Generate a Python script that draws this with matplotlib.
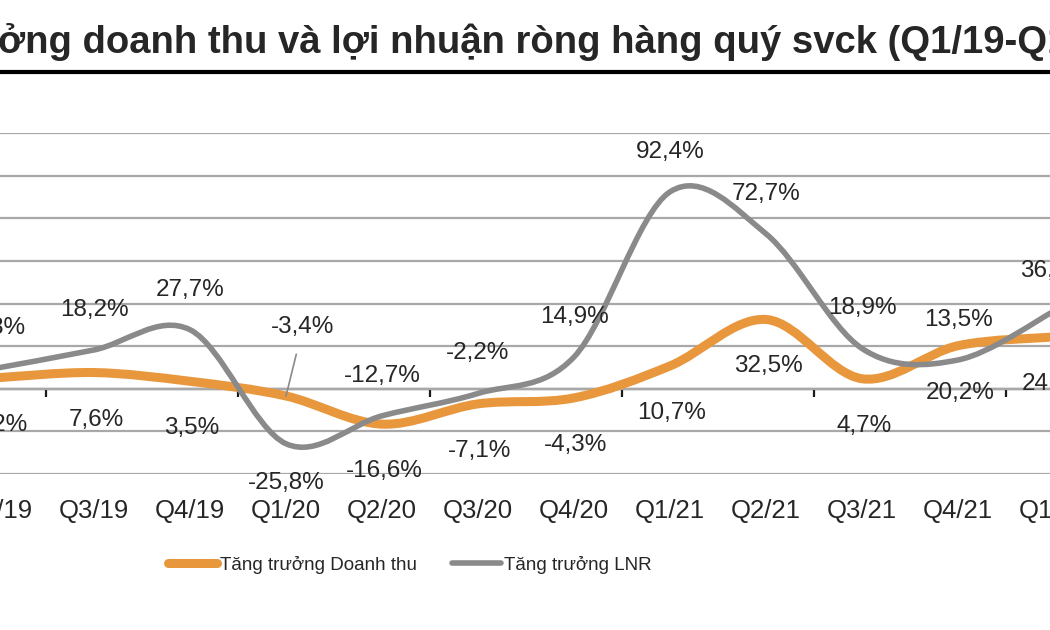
#Growth chart: quarterly revenue vs net profit growth (yoy), smoothed lines like Excel
import numpy as np
import matplotlib.pyplot as plt
from matplotlib.path import Path
from matplotlib.patches import PathPatch
from matplotlib.lines import Line2D

plt.rcParams['font.family'] = ['Liberation Sans', 'DejaVu Sans']

#Data
quarters = ['Q2/19', 'Q3/19', 'Q4/19', 'Q1/20', 'Q2/20', 'Q3/20',
            'Q4/20', 'Q1/21', 'Q2/21', 'Q3/21', 'Q4/21', 'Q1/22']
revenue_growth = [5.2, 7.6, 3.5, -3.4, -16.6, -7.1, -4.3, 10.7, 32.5, 4.7, 20.2, 24.3]
profit_growth = [9.8, 18.2, 27.7, -25.8, -12.7, -2.2, 14.9, 92.4, 72.7, 18.9, 13.5, 36.4]
series_names = ['Tăng trưởng Doanh thu', 'Tăng trưởng LNR']
title = 'ởng doanh thu và lợi nhuận ròng hàng quý svck (Q1/19-Q1/22)'

orange = '#E9973C'
grey = '#8A8A8A'
text_col = '#262626'


def smooth_path(xs, ys):
    #Catmull-Rom through the points, written as cubic Bezier segments
    pts = np.column_stack([xs, ys]).astype(float)
    padded = np.vstack([pts[0], pts, pts[-1]])
    verts = [pts[0]]
    codes = [Path.MOVETO]
    for i in range(len(pts) - 1):
        p0, p1, p2, p3 = padded[i], padded[i + 1], padded[i + 2], padded[i + 3]
        verts += [p1 + (p2 - p0) / 6, p2 - (p3 - p1) / 6, p2]
        codes += [Path.CURVE4] * 3
    return Path(verts, codes)


def pct(v):
    return f'{v:.1f}%'.replace('.', ',')


fig = plt.figure(figsize=(10.5, 6.3), dpi=100)
#axes deliberately wider than the figure: the reference is a crop
ax = fig.add_axes([-50 / 1050, 1 - 474 / 630, 1152 / 1050, 341 / 630])
x = np.arange(len(quarters))

ax.set_xlim(-0.5, 11.5)
ax.set_ylim(-40, 120)
ax.set_yticks(np.arange(-40, 121, 20))
ax.yaxis.grid(True, color='#A8A8A8', linewidth=1.6)
ax.set_axisbelow(True)
ax.tick_params(axis='y', left=False, labelleft=False)
for s in ax.spines.values():
    s.set_visible(False)

ax.set_xticks(x, quarters)
ax.tick_params(axis='x', length=0, pad=18, labelsize=18.5, labelcolor=text_col)

#zero axis with tick marks every two categories
zero_ax = ax.secondary_xaxis(0.25)
zero_ax.spines['bottom'].set_linewidth(1.6)
zero_ax.spines['bottom'].set_color('#1a1a1a')
zero_ax.set_xticks(np.arange(0.5, len(quarters), 2))
zero_ax.tick_params(axis='x', direction='out', length=6, width=1.6,
                    color='#1a1a1a', labelbottom=False)

ax.add_patch(PathPatch(smooth_path(x, revenue_growth), fill=False,
                       edgecolor=orange, linewidth=6.5, capstyle='round', zorder=3))
ax.add_patch(PathPatch(smooth_path(x, profit_growth), fill=False,
                       edgecolor=grey, linewidth=4, capstyle='round', zorder=4))

#data labels: revenue below, profit above (with a couple of exceptions)
for i, v in enumerate(revenue_growth):
    if quarters[i] == 'Q1/20':
        ax.annotate(pct(v), (x[i], v), xytext=(17, 69), textcoords='offset pixels',
                    ha='center', va='center', fontsize=17.5, color=text_col,
                    arrowprops=dict(arrowstyle='-', color='#8A8A8A', lw=1.2,
                                    shrinkA=10, shrinkB=0), zorder=6)
    else:
        ax.annotate(pct(v), (x[i], v), xytext=(2, -47), textcoords='offset pixels',
                    ha='center', va='center', fontsize=17.5, color=text_col, zorder=6)

for i, v in enumerate(profit_growth):
    dy = -39 if quarters[i] == 'Q1/20' else 40
    ax.annotate(pct(v), (x[i], v), xytext=(0, dy), textcoords='offset pixels',
                ha='center', va='center', fontsize=17.5, color=text_col, zorder=6)

#title and rule under it
fig.text(-0.002, 1 - 53 / 630, title, ha='left', va='baseline', fontsize=27.5,
         fontweight='bold', color=text_col)
fig.add_artist(Line2D([0, 1], [1 - 72 / 630] * 2, transform=fig.transFigure,
                      color='black', linewidth=3))

handles = [Line2D([], [], color=orange, linewidth=6.5, solid_capstyle='round'),
           Line2D([], [], color=grey, linewidth=4, solid_capstyle='round')]
fig.legend(handles, series_names, loc='center', bbox_to_anchor=(410 / 1050, 1 - 565 / 630),
           ncol=2, frameon=False, fontsize=13.5, handlelength=2.6, handletextpad=0.15,
           columnspacing=1.9, labelcolor=text_col)

fig.savefig('out.png', dpi=100)
